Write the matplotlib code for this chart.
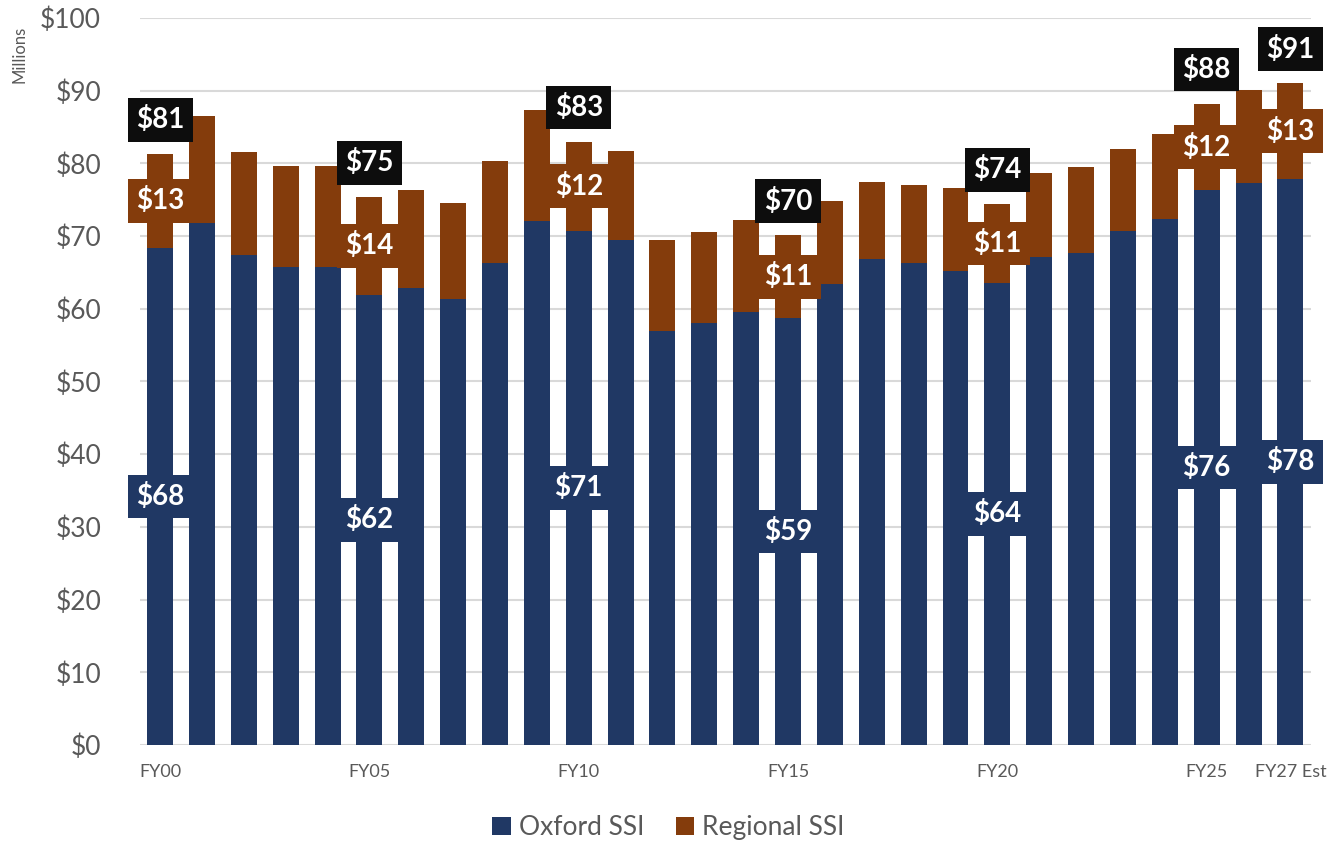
import numpy as np
import matplotlib.pyplot as plt

# Annual SSI revenue, $ millions
years = ["FY00", "FY01", "FY02", "FY03", "FY04", "FY05", "FY06", "FY07", "FY08", "FY09",
         "FY10", "FY11", "FY12", "FY13", "FY14", "FY15", "FY16", "FY17", "FY18", "FY19",
         "FY20", "FY21", "FY22", "FY23", "FY24", "FY25", "FY26", "FY27 Est"]
oxford = [68.4, 71.8, 67.4, 65.7, 65.7, 61.9, 62.9, 61.3, 66.3, 72.1,
          70.7, 69.5, 57.0, 58.0, 59.6, 58.7, 63.4, 66.8, 66.3, 65.2,
          63.6, 67.1, 67.7, 70.7, 72.4, 76.3, 77.3, 77.9]
regional = [12.9, 14.7, 14.2, 13.9, 13.9, 13.5, 13.4, 13.2, 14.1, 15.2,
            12.3, 12.2, 12.5, 12.5, 12.6, 11.4, 11.4, 10.7, 10.7, 11.4,
            10.8, 11.6, 11.8, 11.3, 11.6, 11.9, 12.8, 13.1]

# years that get value callouts, and which ones get an x tick label
labelled = ["FY00", "FY05", "FY10", "FY15", "FY20", "FY25", "FY27 Est"]

NAVY = "#203864"
BROWN = "#843C0C"
GREY = "#595959"

plt.rcParams["font.family"] = ["Lato", "DejaVu Sans"]

fig = plt.figure(figsize=(13.37, 8.43), dpi=100)
ax = fig.add_axes([0.1047, 0.1163, 0.8755, 0.8623])

x = np.arange(len(years))
oxford = np.array(oxford)
regional = np.array(regional)
total = oxford + regional

ax.bar(x, oxford, width=0.62, color=NAVY, label="Oxford SSI", zorder=2)
ax.bar(x, regional, width=0.62, bottom=oxford, color=BROWN, label="Regional SSI", zorder=2)

for i, yr in enumerate(years):
    if yr not in labelled:
        continue
    box = dict(boxstyle="square,pad=0.3", ec="none")
    ax.text(i, oxford[i] / 2, f"${oxford[i]:.0f}", ha="center", va="center",
            fontsize=20, fontweight="bold", color="white",
            bbox={**box, "fc": NAVY}, zorder=4)
    ax.text(i, oxford[i] + regional[i] / 2, f"${regional[i]:.0f}", ha="center", va="center",
            fontsize=20, fontweight="bold", color="white",
            bbox={**box, "fc": BROWN}, zorder=4)
    ax.text(i, total[i] + 4.7, f"${total[i]:.0f}", ha="center", va="center",
            fontsize=20, fontweight="bold", color="white",
            bbox={**box, "fc": "#0d0d0d"}, zorder=4)

ax.set_xlim(-0.48, len(years) - 0.52)
ax.set_ylim(0, 100)
ax.set_yticks(np.arange(0, 101, 10))
ax.set_yticklabels([f"${v}" for v in range(0, 101, 10)])
ticks = [years.index(y) for y in labelled]
ax.set_xticks(ticks)
ax.set_xticklabels(labelled)

ax.tick_params(axis="y", length=0, pad=28, labelsize=19, labelcolor=GREY)
ax.tick_params(axis="x", length=0, pad=14, labelsize=13, labelcolor=GREY)
ax.grid(axis="y", color="#d9d9d9", linewidth=1.5, zorder=0)
ax.set_axisbelow(True)
for side in ["top", "right", "left", "bottom"]:
    ax.spines[side].set_visible(False)

fig.text(0.0145, 0.935, "Millions", rotation=90, ha="center", va="center",
         fontsize=12, color=GREY)

fig.legend(loc="center", bbox_to_anchor=(0.5, 0.018), ncol=2, frameon=False,
           fontsize=19, labelcolor=GREY, handlelength=0.7, handleheight=0.7,
           handletextpad=0.3, columnspacing=1.2)

fig.savefig("out.png", dpi=100)
